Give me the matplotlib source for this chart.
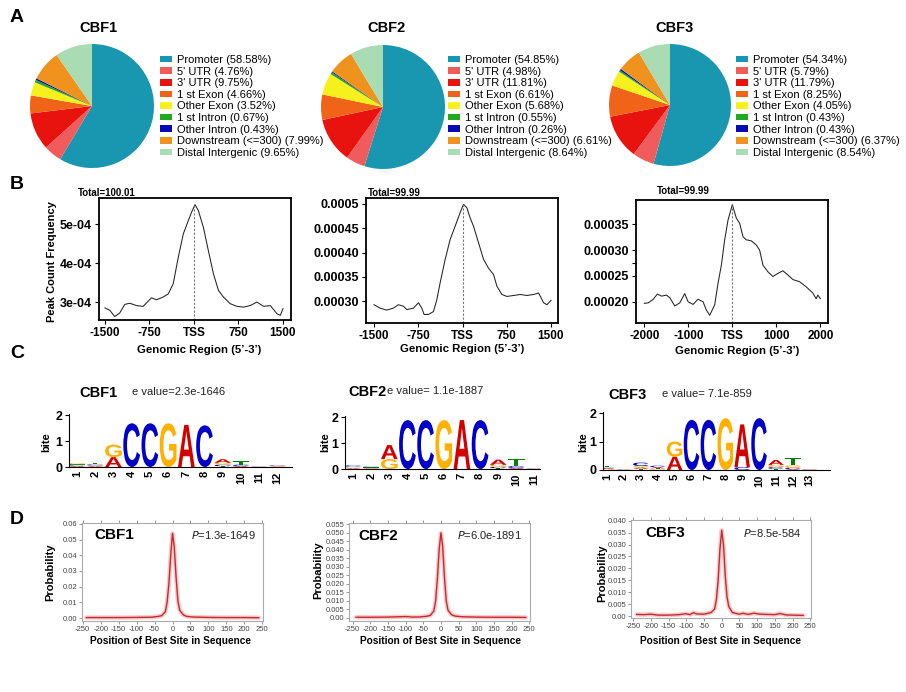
import matplotlib
matplotlib.use('Agg')
import matplotlib.pyplot as plt
import numpy as np
from matplotlib.textpath import TextPath
from matplotlib.patches import PathPatch
from matplotlib.font_manager import FontProperties
from matplotlib.transforms import Affine2D

plt.rcParams['font.family'] = ['Liberation Sans', 'DejaVu Sans']

W, H = 906, 692
fig = plt.figure(figsize=(W / 100, H / 100), dpi=100)


def rect(l, t, r, b):
    return [l / W, 1 - b / H, (r - l) / W, (b - t) / H]


def ftext(x, y, s, **kw):
    return fig.text(x / W, 1 - y / H, s, **kw)


# ---------------- DATA ----------------
# Panel A
categories = ['Promoter', "5' UTR", "3' UTR", '1 st Exon', 'Other Exon',
              '1 st Intron', 'Other Intron', 'Downstream (<=300)', 'Distal Intergenic']
pie_colors = ['#1996b0', '#f05c5c', '#e8120f', '#f06419', '#f6f01c',
              '#23a823', '#0a0ab4', '#f0921e', '#a9dcb3']
cbf1_pct = [58.58, 4.76, 9.75, 4.66, 3.52, 0.67, 0.43, 7.99, 9.65]
cbf2_pct = [54.85, 4.98, 11.81, 6.61, 5.68, 0.55, 0.26, 6.61, 8.64]
cbf3_pct = [54.34, 5.79, 11.79, 8.25, 4.05, 0.43, 0.43, 6.37, 8.54]

# Panel B (peak count frequency, units of 1e-4)
b1_x = [-1500, -1420, -1336, -1252, -1167, -1083, -970, -857, -716, -631, -519,
        -434, -350, -265, -180, -96, -39, 17, 73, 158, 242, 327, 412, 496, 609,
        722, 834, 947, 1060, 1173, 1286, 1399, 1455, 1500]
b1_y = [2.85, 2.79, 2.63, 2.72, 2.94, 2.97, 2.91, 2.89, 3.11, 3.06, 3.13,
        3.21, 3.47, 4.15, 4.75, 5.09, 5.31, 5.50, 5.35, 4.92, 4.32, 3.73, 3.30,
        3.13, 2.96, 2.89, 2.87, 2.91, 3.00, 2.89, 2.91, 2.70, 2.66, 2.83]
b2_x = [-1500, -1398, -1285, -1172, -1087, -1002, -945, -832, -747, -690, -651,
        -577, -492, -436, -379, -294, -209, -125, -40, 17, 74, 130, 187, 272, 357,
        441, 526, 583, 668, 753, 866, 979, 1092, 1205, 1290, 1375, 1432, 1500]
b2_y = [2.93, 2.86, 2.82, 2.86, 2.93, 2.90, 2.83, 2.86, 2.97, 2.86, 2.73,
        2.73, 2.79, 3.03, 3.38, 3.86, 4.27, 4.54, 4.82, 4.99, 4.92, 4.71, 4.54, 4.20,
        3.86, 3.68, 3.55, 3.31, 3.14, 3.10, 3.12, 3.14, 3.12, 3.14, 3.17, 2.97, 2.93, 3.02]
b3_x = [-2000, -1909, -1795, -1705, -1607, -1497, -1421, -1308, -1194, -1081, -1005,
        -892, -779, -665, -590, -514, -401, -325, -249, -174, -98, 0, 91, 166, 242,
        317, 431, 544, 620, 696, 809, 922, 1036, 1149, 1262, 1376, 1527, 1678, 1829,
        1905, 1943, 2000]
b3_y = [1.97, 1.98, 2.05, 2.15, 2.11, 2.13, 2.08, 1.92, 1.98, 2.16, 2.00,
        1.95, 2.05, 2.00, 1.84, 1.74, 1.94, 2.36, 2.71, 3.20, 3.58, 3.88, 3.62, 3.52, 3.26,
        3.20, 3.18, 3.10, 3.00, 2.71, 2.58, 2.49, 2.55, 2.60, 2.52, 2.43, 2.39, 2.29, 2.17,
        2.06, 2.13, 2.06]
b_totals = ['Total=100.01', 'Total=99.99', 'Total=99.99']

# Panel C (letter heights in bits per motif position)
logo_colors = {'A': '#d40000', 'C': '#0000c8', 'G': '#ffb000', 'T': '#008000'}
cbf1_logo = [
    {'A': .03, 'C': .03, 'G': .05, 'T': .04},
    {'A': .03, 'C': .04, 'G': .03, 'T': .05},
    {'A': .38, 'G': .48},
    {'C': 1.68}, {'C': 1.68}, {'G': 1.68}, {'A': 1.62}, {'C': 1.60},
    {'A': .14, 'G': .07, 'C': .06, 'T': .03},
    {'T': .14, 'C': .05, 'A': .04},
    {'A': .01, 'C': .01},
    {'A': .02, 'G': .02, 'C': .02, 'T': .01},
]
cbf2_logo = [
    {'A': .03, 'C': .05, 'G': .03, 'T': .03},
    {'A': .02, 'C': .03, 'G': .02, 'T': .02},
    {'G': .38, 'A': .54},
    {'C': 1.88}, {'C': 1.88}, {'G': 1.88}, {'A': 1.88}, {'C': 1.88},
    {'A': .20, 'G': .08, 'C': .05, 'T': .03},
    {'T': .26, 'C': .07, 'A': .04},
    {'A': .01, 'C': .01, 'G': .01},
]
cbf3_logo = [
    {'T': .04, 'G': .03, 'A': .03, 'C': .03},
    {'A': .01, 'C': .01},
    {'C': .12, 'A': .05, 'G': .05, 'T': .04},
    {'C': .05, 'A': .04, 'G': .03, 'T': .03},
    {'A': .47, 'G': .53},
    {'C': 1.76}, {'C': 1.76}, {'G': 1.82},
    {'A': 1.50, 'C': .10},
    {'C': 1.82},
    {'A': .17, 'G': .08, 'C': .06, 'T': .04},
    {'T': .25, 'G': .08, 'C': .05, 'A': .03},
    {'A': .01, 'C': .01, 'G': .01},
]
c_evalues = ['e value=2.3e-1646', 'e value= 1.1e-1887', 'e value= 7.1e-859']

# Panel D (probability of best site position)
d1_x = [-240, -200, -150, -100, -60, -40, -30, -20, -15, -10, -5, 0, 5, 10, 15,
        20, 30, 40, 60, 100, 150, 200, 240]
d1_y = [0.0003, 0.0003, 0.0003, 0.0004, 0.0005, 0.0010, 0.0015, 0.0040, 0.0100,
        0.0220, 0.0400, 0.0540, 0.0450, 0.0260, 0.0110, 0.0050, 0.0020, 0.0010,
        0.0006, 0.0004, 0.0003, 0.0003, 0.0002]
d2_x = [-240, -200, -150, -100, -80, -60, -40, -30, -20, -15, -10, -5, 0, 5, 10,
        15, 20, 30, 40, 60, 100, 150, 200, 240]
d2_y = [0.0003, 0.0003, 0.0004, 0.0007, 0.0004, 0.0005, 0.0009, 0.0014, 0.0040,
        0.0100, 0.0230, 0.0400, 0.0500, 0.0420, 0.0240, 0.0100, 0.0045, 0.0018,
        0.0010, 0.0006, 0.0004, 0.0003, 0.0003, 0.0002]
d3_x = [-240, -220, -200, -180, -150, -120, -100, -90, -80, -70, -50, -30, -20,
        -15, -10, -5, 0, 5, 10, 15, 20, 30, 50, 60, 75, 90, 110, 130, 150, 165,
        180, 200, 230]
d3_y = [0.0007, 0.0006, 0.0008, 0.0004, 0.0004, 0.0006, 0.0010, 0.0006, 0.0014,
        0.0009, 0.0008, 0.0015, 0.0030, 0.0070, 0.0150, 0.0280, 0.0360, 0.0300,
        0.0170, 0.0080, 0.0040, 0.0015, 0.0008, 0.0012, 0.0007, 0.0012, 0.0008,
        0.0007, 0.0006, 0.0011, 0.0005, 0.0004, 0.0003]
d_pvalues = ['1.3e-1649', '6.0e-1891', '8.5e-584']
names = ['CBF1', 'CBF2', 'CBF3']

# ---------------- PANEL LETTERS ----------------
for lab, y in zip('ABCD', [17, 185, 353, 520]):
    ftext(10, y, lab, fontsize=14, fontweight='bold', va='center', ha='left')

# ---------------- PANEL A ----------------
pie_boxes = [(30, 44, 154, 168), (321, 45, 445, 169), (609, 44, 731, 166)]
pie_titles = [(98, 28), (387, 28), (674, 28)]
leg_pos = [(160, 55), (448, 55), (736, 55)]
for name, vals, box, tp, lp in zip(names, [cbf1_pct, cbf2_pct, cbf3_pct],
                                   pie_boxes, pie_titles, leg_pos):
    ax = fig.add_axes(rect(*box))
    wedges, _ = ax.pie(vals, colors=pie_colors, startangle=90, counterclock=False,
                       radius=1, wedgeprops=dict(linewidth=0))
    ax.set_xlim(-1, 1)
    ax.set_ylim(-1, 1)
    ftext(tp[0], tp[1], name, fontsize=10.5, fontweight='bold', ha='center', va='center')
    labels = [f'{c} ({v:.2f}%)' for c, v in zip(categories, vals)]
    ax.legend(wedges, labels, loc='upper left',
              bbox_to_anchor=(lp[0] / W, 1 - lp[1] / H), bbox_transform=fig.transFigure,
              frameon=False, fontsize=8, handlelength=1.1, handleheight=0.55,
              handletextpad=0.4, labelspacing=0.145, borderpad=0, borderaxespad=0)

# ---------------- PANEL B ----------------
b_boxes = [(99, 198, 291, 320), (366, 198, 558, 323), (636, 200, 828, 323)]
b_xlims = [(-1601, 1635), (-1636, 1619), (-2189, 2174)]
b_ylims = [(2.54e-4, 5.67e-4), (2.555e-4, 5.12e-4), (1.59e-4, 3.97e-4)]
b_xticks = [[-1500, -750, 0, 750, 1500], [-1500, -750, 0, 750, 1500],
            [-2000, -1000, 0, 1000, 2000]]
b_xticklabels = [['-1500', '-750', 'TSS', '750', '1500'],
                 ['-1500', '-750', 'TSS', '750', '1500'],
                 ['-2000', '-1000', 'TSS', '1000', '2000']]
b_yticks = [[3e-4, 4e-4, 5e-4], [0.0003, 0.00035, 0.0004, 0.00045, 0.0005],
            [0.0002, 0.00025, 0.0003, 0.00035]]
b_yticklabels = [['3e-04', '4e-04', '5e-04'],
                 ['0.00030', '0.00035', '0.00040', '0.00045', '0.0005'],
                 ['0.00020', '0.00025', '0.00030', '0.00035']]
b_total_pos = [(78, 193), (368, 193), (657, 191)]
b_xlabel_pos = [(199, 350), (462, 349), (737, 351)]
b_data = [(b1_x, b1_y), (b2_x, b2_y), (b3_x, b3_y)]
for i in range(3):
    ax = fig.add_axes(rect(*b_boxes[i]))
    x = np.array(b_data[i][0])
    y = np.array(b_data[i][1]) * 1e-4
    ax.plot(x, y, color='#222222', lw=0.75)
    ax.set_xlim(*b_xlims[i])
    ax.set_ylim(*b_ylims[i])
    ax.vlines(0, b_ylims[i][0], y.max(), colors='#777777', linestyles=(0, (2, 1.5)), lw=0.8)
    ax.set_xticks(b_xticks[i])
    ax.set_xticklabels(b_xticklabels[i], fontsize=8.5, fontweight='bold')
    ax.set_yticks(b_yticks[i])
    ax.set_yticklabels(b_yticklabels[i], fontsize=9, fontweight='bold')
    if i == 2:
        ax.set_yticks([2.744e-4], minor=True)
    ax.tick_params(which='both', direction='out', length=3, width=0.8, pad=2)
    for s in ax.spines.values():
        s.set_linewidth(1.3)
    ftext(b_total_pos[i][0], b_total_pos[i][1], b_totals[i], fontsize=7,
          fontweight='bold', ha='left', va='center')
    ftext(b_xlabel_pos[i][0], b_xlabel_pos[i][1], 'Genomic Region (5’-3’)',
          fontsize=8.2, fontweight='bold', ha='center', va='center')
ftext(52, 262, 'Peak Count Frequency', fontsize=8, fontweight='bold', rotation=90,
      ha='center', va='center')

# ---------------- PANEL C ----------------
logo_font = FontProperties(family='Liberation Sans', weight='bold')


def draw_letter(ax, letter, xc, y0, w, h, color):
    tp = TextPath((0, 0), letter, size=1, prop=logo_font)
    bb = tp.get_extents()
    t = (Affine2D().translate(-bb.x0, -bb.y0)
         .scale(w / bb.width, h / bb.height)
         .translate(xc - w / 2, y0))
    ax.add_patch(PathPatch(t.transform_path(tp), facecolor=color, edgecolor='none'))


c_boxes = [(69, 413.7, 292, 467), (345, 415.7, 540, 469), (603, 411.6, 830, 470)]
c_xlims = [(0.56, 12.8), (0.56, 11.3), (0.76, 14.2)]
c_title_pos = [(79, 393), (348, 392), (608, 395)]
c_eval_pos = [(132, 392), (387, 391), (662, 394)]
c_bite_x = [46, 325, 583]
for i, logo in enumerate([cbf1_logo, cbf2_logo, cbf3_logo]):
    ax = fig.add_axes(rect(*c_boxes[i]))
    for p, col in enumerate(logo, start=1):
        y0 = 0.0
        for letter, h in sorted(col.items(), key=lambda kv: kv[1]):
            draw_letter(ax, letter, p, y0, 0.92, h, logo_colors[letter])
            y0 += h
    ax.set_xlim(*c_xlims[i])
    ax.set_ylim(0, 2.05)
    ax.set_xticks(range(1, len(logo) + 1))
    ax.set_xticklabels([str(k) for k in range(1, len(logo) + 1)], rotation=90,
                       fontsize=8, fontweight='bold')
    ax.set_yticks([0, 1, 2])
    ax.set_yticklabels(['0', '1', '2'], fontsize=9, fontweight='bold')
    ax.tick_params(axis='x', length=0, pad=3)
    ax.tick_params(axis='y', length=3, width=0.8, pad=1.5)
    ax.spines['top'].set_visible(False)
    ax.spines['right'].set_visible(False)
    ax.spines['left'].set_linewidth(0.8)
    ax.spines['bottom'].set_linewidth(0.8)
    ax.patch.set_alpha(0)
    ftext(c_title_pos[i][0], c_title_pos[i][1], names[i], fontsize=10.5,
          fontweight='bold', ha='left', va='center')
    ftext(c_eval_pos[i][0], c_eval_pos[i][1], c_evalues[i], fontsize=8,
          ha='left', va='center', color='#222222')
    ftext(c_bite_x[i], 442, 'bite', fontsize=8, fontweight='bold', rotation=90,
          ha='center', va='center')

# ---------------- PANEL D ----------------
d_boxes = [(82, 523, 263, 621), (349, 523, 530, 621), (631, 520, 811, 618)]
d_xlims = [(-252, 252), (-260, 252), (-256, 252)]
d_ylims = [(-0.0019, 0.0606), (-0.0019, 0.0558), (-0.0008, 0.0403)]
d_yticks = [[0, 0.01, 0.02, 0.03, 0.04, 0.05, 0.06],
            [0, 0.005, 0.01, 0.015, 0.02, 0.025, 0.03, 0.035, 0.04, 0.045, 0.05, 0.055],
            [0, 0.005, 0.01, 0.015, 0.02, 0.025, 0.03, 0.035, 0.04]]
d_yticklabels = [['0.00', '0.01', '0.02', '0.03', '0.04', '0.05', '0.06'],
                 ['0.00', '0.005', '0.010', '0.015', '0.020', '0.025', '0.030',
                  '0.035', '0.040', '0.045', '0.050', '0.055'],
                 ['0.00', '0.005', '0.010', '0.015', '0.020', '0.025', '0.030',
                  '0.035', '0.040']]
d_xticks = [-250, -200, -150, -100, -50, 0, 50, 100, 150, 200, 250]
d_name_pos = [(94, 535), (358, 536), (645, 533)]
d_p_pos = [(256, 535), (522, 535), (802, 533)]
d_ylabel_pos = [(50, 572), (318, 570), (602, 573)]
d_xlabel_pos = [(170, 641), (441, 641), (720, 641)]
d_data = [(d1_x, d1_y), (d2_x, d2_y), (d3_x, d3_y)]
for i in range(3):
    ax = fig.add_axes(rect(*d_boxes[i]))
    x, y = d_data[i]
    ax.plot(x, y, color='#f3b5b5', lw=3.2, alpha=0.7, solid_capstyle='round')
    ax.plot(x, y, color='#c42a2f', lw=1.0)
    ax.set_xlim(*d_xlims[i])
    ax.set_ylim(*d_ylims[i])
    ax.set_xticks(d_xticks)
    ax.set_xticklabels([str(v) for v in d_xticks], fontsize=5.5, color='#444444')
    ax.set_yticks(d_yticks[i])
    ax.set_yticklabels(d_yticklabels[i], fontsize=5.5, color='#444444')
    ax.tick_params(axis='both', direction='out', length=2, width=0.6, colors='#888888',
                   labelcolor='#444444', pad=1.5)
    ax.tick_params(axis='x', top=True)
    for s in ax.spines.values():
        s.set_color('#aaaaaa')
        s.set_linewidth(0.8)
    ftext(d_name_pos[i][0], d_name_pos[i][1], names[i], fontsize=11,
          fontweight='bold', ha='left', va='center')
    ftext(d_p_pos[i][0], d_p_pos[i][1], r'$\it{P}$=' + d_pvalues[i], fontsize=8,
          ha='right', va='center', color='#222222')
    ftext(d_ylabel_pos[i][0], d_ylabel_pos[i][1], 'Probability', fontsize=8,
          fontweight='bold', rotation=90, ha='center', va='center')
    ftext(d_xlabel_pos[i][0], d_xlabel_pos[i][1], 'Position of Best Site in Sequence',
          fontsize=7.3, fontweight='bold', ha='center', va='center')

fig.savefig('out.png', dpi=100)
